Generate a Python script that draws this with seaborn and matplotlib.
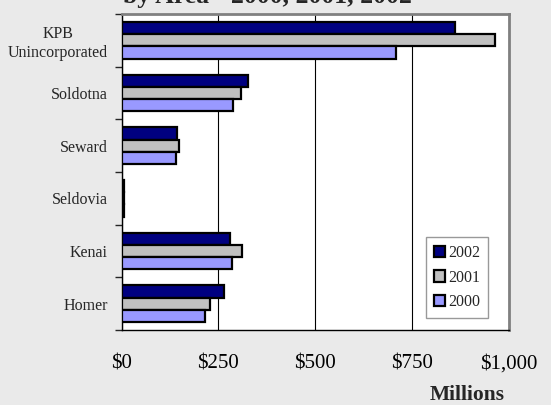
import matplotlib
matplotlib.use("Agg")
import matplotlib.pyplot as plt
import seaborn as sns
import pandas as pd
from matplotlib.ticker import FixedLocator

categories = ["KPB\nUnincorporated", "Soldotna", "Seward", "Seldovia", "Kenai", "Homer"]
years = ["2002", "2001", "2000"]
values_2002 = [862, 326, 142, 5, 280, 264]
values_2001 = [965, 308, 148, 5, 311, 229]
values_2000 = [708, 288, 141, 5, 284, 216]
xtick_values = [0, 250, 500, 750, 1000]
xtick_labels = ["$0", "$250", "$500", "$750", "$1,000"]
colors = ["#000080", "#C0C0C0", "#9999FF"]

rows = []
for yr, vals in zip(years, [values_2002, values_2001, values_2000]):
    for c, v in zip(categories, vals):
        rows.append({"Area": c, "Year": yr, "Value": v})
df = pd.DataFrame(rows)

sns.set_style("white")
plt.rcParams["font.family"] = ["Liberation Serif", "DejaVu Serif"]

fig = plt.figure(figsize=(5.51, 4.05), dpi=100)
fig.patch.set_facecolor("#EAEAEA")
ax = fig.add_axes([121.7 / 551, 1 - 330 / 405, 386.8 / 551, 316 / 405])
ax.set_facecolor("white")

sns.barplot(data=df, y="Area", x="Value", hue="Year", hue_order=years,
            order=categories, palette=colors, orient="h", width=0.69,
            edgecolor="black", linewidth=1.6, saturation=1, ax=ax, zorder=3)

ax.set_xlim(0, 1000)
ax.set_ylim(5.5, -0.5)
ax.set_xticks(xtick_values)
ax.set_xticklabels(xtick_labels, fontsize=15)
ax.set_xlabel("")
ax.set_ylabel("")
ax.tick_params(axis="x", direction="out", length=5, width=1, pad=12.5, colors="black")
ax.tick_params(axis="y", which="major", length=0, pad=10, labelsize=11.5)
ax.yaxis.set_minor_locator(FixedLocator([i - 0.5 for i in range(7)]))
ax.tick_params(axis="y", which="minor", direction="out", length=5, width=1, left=True)
for lbl in ax.get_yticklabels():
    lbl.set_multialignment("center")

ax.grid(axis="x", color="black", linewidth=0.8, zorder=0)
ax.set_axisbelow(True)
for side in ["top", "right"]:
    ax.spines[side].set_color("#808080")
    ax.spines[side].set_linewidth(2)
for side in ["left", "bottom"]:
    ax.spines[side].set_color("black")
    ax.spines[side].set_linewidth(1)

leg = ax.legend(loc="upper left", bbox_to_anchor=(0.786, 0.295), frameon=True,
                fancybox=False, edgecolor="#808080", fontsize=11.5,
                handlelength=0.7, handleheight=0.7, handletextpad=0.2,
                labelspacing=0.55, borderpad=0.5, borderaxespad=0, title=None)
leg.get_frame().set_linewidth(1)
for h in leg.legend_handles:
    h.set_linewidth(1.6)

fig.text(267 / 551, 1 - 3 / 405, "by Area - 2000, 2001, 2002", ha="center", va="baseline",
         fontsize=18.5, fontweight="bold")
fig.text(505 / 551, 1 - 395 / 405, "Millions", ha="right", va="center",
         fontsize=15.5, fontweight="bold")

fig.savefig("out.png", dpi=100, facecolor=fig.get_facecolor())
